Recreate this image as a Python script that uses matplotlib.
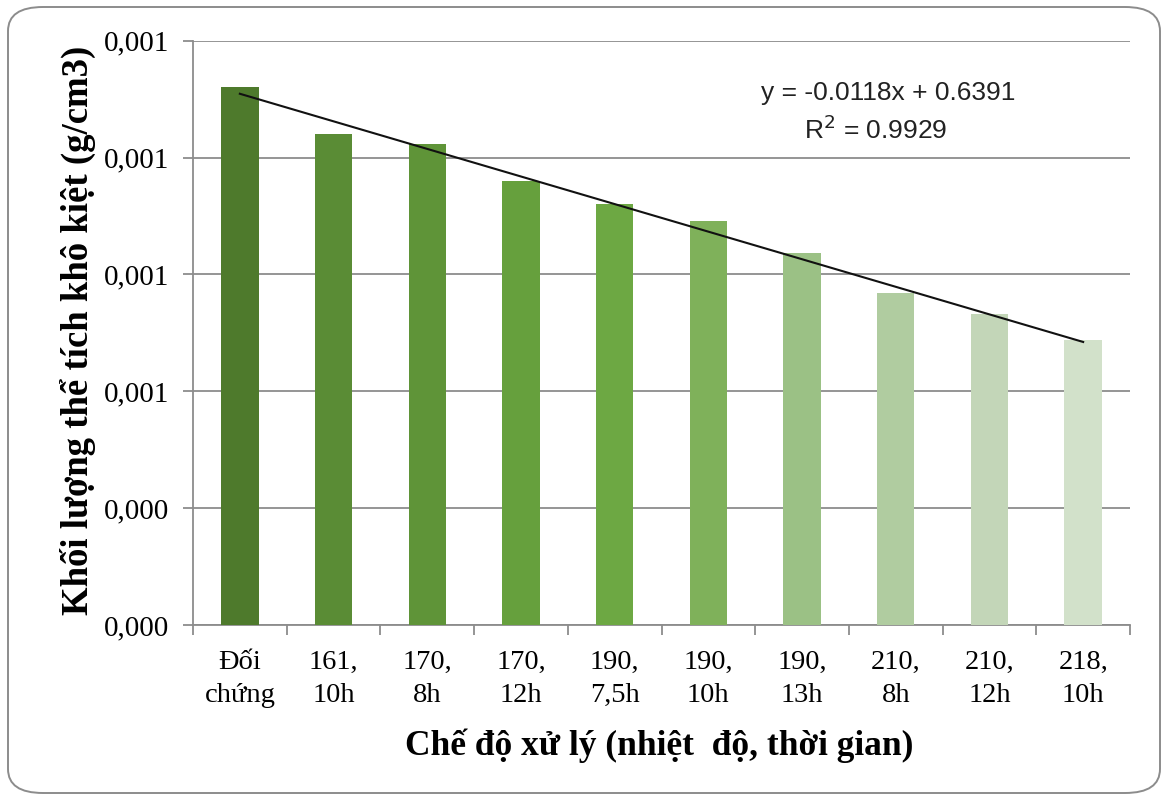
import matplotlib
matplotlib.use("Agg")
import matplotlib.pyplot as plt
from matplotlib.patches import FancyBboxPatch
import numpy as np

# Treatments (temperature, time) and dry bulk density
categories = ["Đối\nchứng", "161,\n10h", "170,\n8h", "170,\n12h", "190,\n7,5h",
              "190,\n10h", "190,\n13h", "210,\n8h", "210,\n12h", "218,\n10h"]
density = [0.630, 0.610, 0.606, 0.590, 0.580, 0.573, 0.559, 0.542, 0.533, 0.522]

# Linear trend reported on the chart
trend_slope = -0.0118
trend_intercept = 0.6391
trend_r2 = 0.9929

# Y axis ticks and their labels
y_ticks = [0.40, 0.45, 0.50, 0.55, 0.60, 0.65]
y_tick_labels = ["0,000", "0,000", "0,001", "0,001", "0,001", "0,001"]

bar_colors = ["#4E7A2C", "#5A8C35", "#5F9438", "#66A03D", "#6DA843",
              "#7FB15A", "#9BC185", "#B0CCA0", "#C3D6B8", "#D2E1CA"]

serif = ["Liberation Serif", "DejaVu Serif"]
sans = ["Liberation Sans", "DejaVu Sans"]

fig = plt.figure(figsize=(11.68, 8.01), dpi=100)
fig.patch.set_facecolor("white")

# Rounded frame around the whole chart
frame = FancyBboxPatch((8 / 1168, 8 / 801), 1152 / 1168, 786 / 801,
                       boxstyle="round,pad=0,rounding_size=0.03",
                       transform=fig.transFigure, facecolor="none",
                       edgecolor="#8c8c8c", linewidth=1.4, zorder=-1)
fig.patches.append(frame)

ax = fig.add_axes([193 / 1168, 1 - 625 / 801, (1130 - 193) / 1168, (625 - 40.7) / 801])
ax.set_facecolor("none")

x = np.arange(1, len(categories) + 1)
ax.bar(x, density, width=0.4, color=bar_colors, zorder=3)

# Trend line drawn from its equation
xt = np.array([x[0], x[-1]], dtype=float)
ax.plot(xt, trend_slope * xt + trend_intercept, color="#111111", linewidth=1.5, zorder=4)

ax.text(7.92, 0.6276, f"y = {trend_slope:.4f}x + {trend_intercept:.4f}",
        ha="center", va="center", fontsize=19, family=sans, color="#222222")
ax.text(7.79, 0.6118, f"R$^2$ = {trend_r2:.4f}",
        ha="center", va="center", fontsize=19, family=sans, color="#222222")

ax.set_xlim(0.5, len(categories) + 0.5)
ax.set_ylim(y_ticks[0], y_ticks[-1])

ax.set_yticks(y_ticks)
ax.set_yticklabels(y_tick_labels, fontsize=21, family=serif)
ax.yaxis.grid(True, color="#8c8c8c", linewidth=1.3, zorder=1)
ax.set_axisbelow(True)

# Category labels centred under bars, tick marks at category boundaries
ax.set_xticks(np.arange(0.5, len(categories) + 1.0, 1.0))
ax.set_xticklabels([])
ax.set_xticks(x, minor=True)
ax.set_xticklabels(categories, minor=True, fontsize=20.5, family=serif, linespacing=1.42)
ax.tick_params(axis="x", which="minor", length=0, pad=18)
ax.tick_params(axis="x", which="major", length=7, width=1.3, color="#8c8c8c", direction="out")
ax.tick_params(axis="y", length=7, width=1.3, color="#8c8c8c", direction="out", pad=10)

for side in ["top", "right"]:
    ax.spines[side].set_visible(False)
for side in ["left", "bottom"]:
    ax.spines[side].set_color("#8c8c8c")
    ax.spines[side].set_linewidth(1.3)

ax.set_xlabel("Chế độ xử lý (nhiệt  độ, thời gian)", fontsize=25.5, family=serif,
              fontweight="bold", va="center", ha="center")
ax.xaxis.set_label_coords(0.498, -0.207)
ax.set_ylabel("Khối lượng thể tích khô kiệt (g/cm3)", fontsize=26.5, family=serif,
              fontweight="bold", va="center", ha="center")
ax.yaxis.set_label_coords(-0.123, 0.505)

fig.savefig("out.png", dpi=100, facecolor="white")
